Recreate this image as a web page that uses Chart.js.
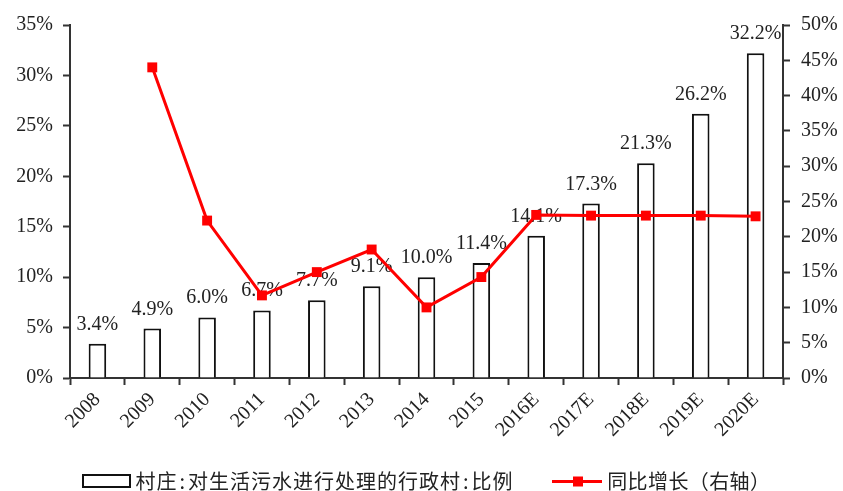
<!DOCTYPE html>
<html>
<head>
<meta charset="utf-8">
<script src="https://cdn.jsdelivr.net/npm/chart.js@4/dist/chart.umd.min.js"></script>
<style>
  html, body { margin: 0; padding: 0; background: #fff; }
</style>
</head>
<body>
<canvas id="chart" width="843" height="491"></canvas>
<script>
// data
const years = ['2008', '2009', '2010', '2011', '2012', '2013', '2014', '2015', '2016E', '2017E', '2018E', '2019E', '2020E'];
const shareValues = [3.4, 4.9, 6.0, 6.7, 7.7, 9.1, 10.0, 11.4, 14.1, 17.3, 21.3, 26.2, 32.2];
const growthValues = [null, 44.0, 22.3, 11.7, 15.0, 18.2, 10.0, 14.3, 23.1, 23.0, 23.0, 23.0, 22.9];
const leftAxis = { max: 35, step: 5 };
const rightAxis = { max: 50, step: 5 };
const barLabel = '村庄:对生活污水进行处理的行政村:比例';
const lineLabel = '同比增长（右轴）';

const serif = "'Liberation Serif', 'Times New Roman', serif";
const cjk = "'Noto Sans CJK SC', 'Liberation Serif', sans-serif";
const textColor = '#222';
const axisColor = '#333';
const red = '#ff0000';

const barLabels = {
  id: 'barLabels',
  beforeDatasetsDraw(chart) {
    const ctx = chart.ctx;
    const meta = chart.getDatasetMeta(0);
    ctx.save();
    ctx.font = '20px ' + serif;
    ctx.fillStyle = textColor;
    ctx.textAlign = 'center';
    ctx.textBaseline = 'alphabetic';
    meta.data.forEach((bar, i) => {
      ctx.fillText(shareValues[i].toFixed(1) + '%', bar.x, bar.y - 14);
    });
    ctx.restore();
  }
};

// full-width chars get a fixed cell, like the original's SimSun spacing
function drawSpaced(ctx, text, x, y, cell) {
  ctx.textAlign = 'center';
  for (const ch of text) {
    const w = ch.charCodeAt(0) > 0x2e80 ? cell : cell / 2;
    ctx.fillText(ch, x + w / 2, y);
    x += w;
  }
}

// legend drawn by hand: box for bars, line with square for growth
const bottomLegend = {
  id: 'bottomLegend',
  afterDraw(chart) {
    const ctx = chart.ctx;
    const y = 481.5;
    ctx.save();
    ctx.strokeStyle = '#111';
    ctx.lineWidth = 2;
    ctx.fillStyle = '#fff';
    ctx.fillRect(83, 475, 47, 12);
    ctx.strokeRect(83, 475, 47, 12);

    ctx.strokeStyle = red;
    ctx.lineWidth = 3;
    ctx.beginPath();
    ctx.moveTo(552, y);
    ctx.lineTo(602, y);
    ctx.stroke();
    ctx.fillStyle = red;
    ctx.fillRect(573, y - 5, 10, 10);

    ctx.font = '20px ' + cjk;
    ctx.fillStyle = textColor;
    ctx.textBaseline = 'middle';
    drawSpaced(ctx, chart.data.datasets[0].label, 135, y, 21);
    drawSpaced(ctx, chart.data.datasets[1].label, 607, y, 20.4);
    ctx.restore();
  }
};

const pct = v => v + '%';

new Chart(document.getElementById('chart'), {
  data: {
    labels: years,
    datasets: [
      {
        type: 'bar',
        label: barLabel,
        data: shareValues,
        yAxisID: 'y',
        backgroundColor: '#fff',
        borderColor: '#111',
        borderWidth: 2,
        barPercentage: 0.32,
        categoryPercentage: 1,
        order: 1
      },
      {
        type: 'line',
        label: lineLabel,
        data: growthValues,
        yAxisID: 'y1',
        borderColor: red,
        backgroundColor: red,
        borderWidth: 3,
        pointStyle: 'rect',
        pointRadius: 7,
        pointBorderWidth: 0,
        tension: 0,
        order: 0
      }
    ]
  },
  options: {
    responsive: false,
    animation: false,
    layout: { padding: { left: 15, right: 3, top: 25, bottom: 53 } },
    plugins: {
      legend: { display: false },
      tooltip: { enabled: false }
    },
    scales: {
      x: {
        offset: true,
        grid: { offset: true, drawOnChartArea: false, tickLength: 7, tickColor: axisColor, tickWidth: 2 },
        border: { color: axisColor, width: 2 },
        ticks: {
          minRotation: 45, maxRotation: 45, padding: 3,
          color: textColor, font: { family: serif, size: 20 }
        },
        afterFit: s => { s.height = 60; }
      },
      y: {
        position: 'left',
        min: 0, max: leftAxis.max,
        grid: { drawOnChartArea: false, tickLength: 7, tickColor: axisColor, tickWidth: 2 },
        border: { color: axisColor, width: 2 },
        ticks: {
          stepSize: leftAxis.step, padding: 10, callback: pct,
          color: textColor, font: { family: serif, size: 20 }
        },
        afterFit: s => { s.width = 55; }
      },
      y1: {
        position: 'right',
        min: 0, max: rightAxis.max,
        grid: { drawOnChartArea: false, tickLength: 7, tickColor: axisColor, tickWidth: 2 },
        border: { color: axisColor, width: 2 },
        ticks: {
          stepSize: rightAxis.step, padding: 11, callback: pct,
          color: textColor, font: { family: serif, size: 20 }
        },
        afterFit: s => { s.width = 57; }
      }
    }
  },
  plugins: [barLabels, bottomLegend]
});
</script>
</body>
</html>
